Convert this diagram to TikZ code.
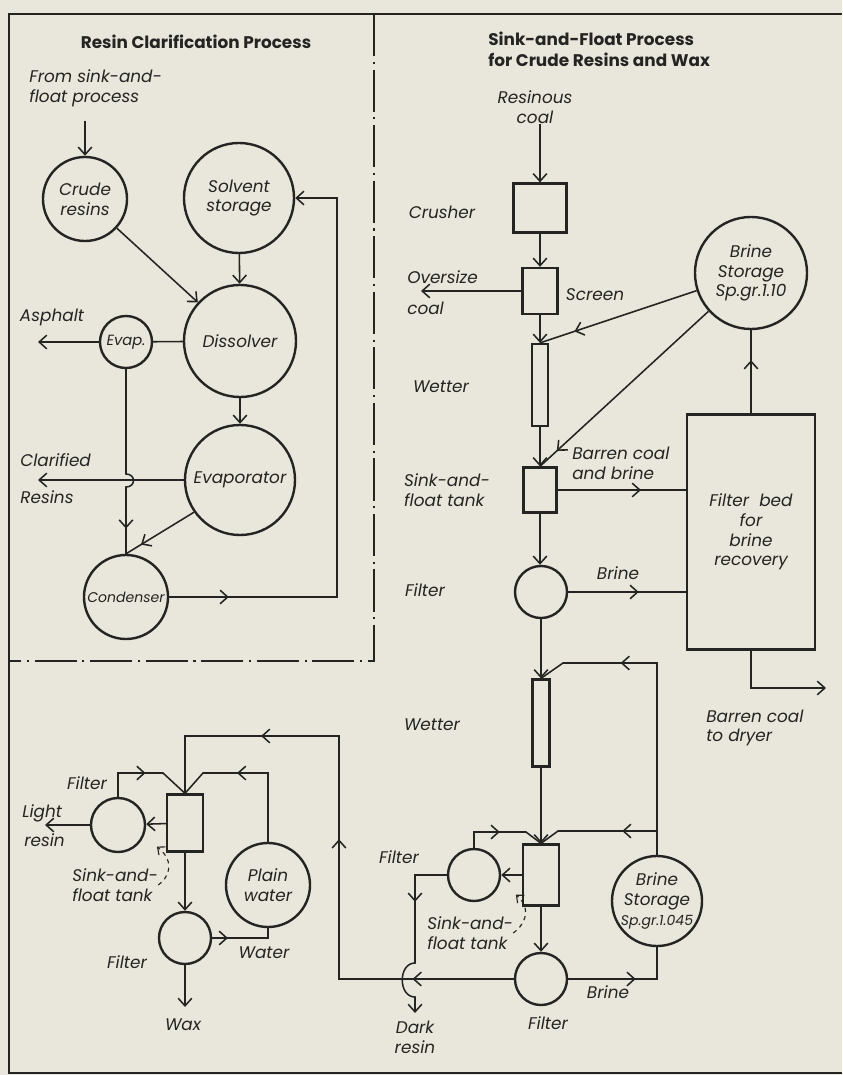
\documentclass[tikz,border=0pt]{standalone}
\usepackage{fontspec}
\newfontfamily\letterfont{Poppins}
\usepackage{tikz}
\usetikzlibrary{arrows.meta, calc, decorations.markings, positioning}
\usepackage{xcolor}
\definecolor{paper}{RGB}{233,230,219}
\definecolor{ink}{RGB}{36,36,34}
\newcommand{\lettersize}[2]{\letterfont\itshape\fontsize{#1}{#2}\selectfont}

\tikzset{
  flowtip/.tip={Straight Barb[length=1.9mm, width=3.4mm]},
  pipe/.style={draw=ink, line width=1.1pt},
  flow/.style={pipe, -{flowtip}},
  midarrow/.style={postaction={decorate, decoration={markings, mark=at position #1 with {\arrow{flowtip}}}}},
  vessel/.style={circle, draw=ink, line width=1.7pt, inner sep=0pt, minimum size=#1,
    font=\lettersize{12}{14}, align=center, text=ink},
  unitbox/.style 2 args={rectangle, draw=ink, line width=1.6pt, inner sep=0pt,
    minimum width=#1, minimum height=#2},
  lettering/.style={font=\lettersize{12}{14}, text=ink, inner sep=0pt},
  heading/.style={font=\letterfont\bfseries\fontsize{12}{15}\selectfont, text=ink, inner sep=0pt, align=left},
  pointer/.style={draw=ink, line width=0.8pt, dashed, -{Straight Barb[length=1.5mm, width=2.6mm]}},
  divider/.style={draw=ink, line width=1.1pt, dash pattern=on 30pt off 4pt on 1.5pt off 4pt},
}

\begin{document}
\begin{tikzpicture}[x=0.025cm, y=-0.025cm]
    \useasboundingbox (0,0) rectangle (842,1075);
    \fill[paper] (0,0) rectangle (842,1075);

    % Frame and divider
    \draw[ink, line width=1.6pt] (842,14) -- (9,14) -- (9,1073) -- (842,1073);
    \draw[divider] (374,14) -- (374,661) -- (9,661);

    % Resin clarification
    \node[heading] (titleL) at (196,42) {Resin Clarification Process};
    \node[lettering, align=left, anchor=west] (fromSF) at (29,88) {From sink-and-\\float process};
    \coordinate (feedL) at (85,121);
    \node[vessel=2.1cm] (crude) at (85,199) {Crude\\resins};
    \node[vessel=2.75cm] (solvent) at (239,198) {Solvent\\storage};
    \node[vessel=2.8cm] (dissolver) at (240,341) {Dissolver};
    \node[vessel=1.3cm, font=\lettersize{10.5}{12}] (evap) at (126,342) {Evap.};
    \node[vessel=2.75cm] (evaporator) at (240,480) {Evaporator};
    \node[vessel=2.1cm, font=\lettersize{10}{12}] (condenser) at (126,597) {Condenser};
    \node[lettering] (asphalt) at (52,317) {Asphalt};
    \coordinate (asphaltout) at (38,342);
    \node[lettering, anchor=west] (clarA) at (20,460) {Clarified};
    \node[lettering, anchor=west] (clarB) at (20,497) {Resins};
    \coordinate (clarout) at (38,480);

    \draw[flow] (feedL) -- (crude.north);
    \draw[flow] (crude) -- (dissolver);
    \draw[flow] (solvent) -- (dissolver);
    \draw[pipe] (evap) -- (dissolver);
    \draw[flow] (evap.west) -- (asphaltout);
    \draw[flow] (dissolver) -- (evaporator);
    \draw[flow] (evaporator.west) -- (clarout);
    \draw[pipe, midarrow=0.87] (evap.south) -- (126,474) .. controls (136,474) and (136,487) .. (126,487) -- (condenser.north);
    \draw[pipe, midarrow=0.78] (evaporator.215) -- (condenser.north);
    \draw[flow, midarrow=0.098] (condenser.east) -- (337,597) -- (337,198) -- (solvent.east);

    % Sink-and-float, upper line
    \node[heading, anchor=west] (titleR) at (488,49) {Sink-and-Float Process\\for Crude Resins and Wax};
    \node[lettering, align=center] (resinous) at (535,107) {Resinous\\coal};
    \node[unitbox={1.325cm}{1.225cm}] (crusher) at (540,208) {};
    \node[lettering] (crusherlbl) at (442,212) {Crusher};
    \node[unitbox={0.875cm}{1.15cm}] (screen) at (540,291) {};
    \node[lettering] (screenlbl) at (595,295) {Screen};
    \node[lettering, anchor=west] (oversizeA) at (407,277) {Oversize};
    \node[lettering, anchor=west] (oversizeB) at (407,308) {coal};
    \coordinate (oversizeout) at (421,291);
    \node[unitbox={0.4cm}{2.05cm}] (wetterA) at (540,385) {};
    \node[lettering] (wetterAlbl) at (441,387) {Wetter};
    \node[vessel=2.8cm] (brineA) at (751,273) {Brine\\Storage\\Sp.gr.1.10};
    \node[unitbox={0.825cm}{1.125cm}] (tankA) at (540,490) {};
    \node[lettering, align=left] (tankAlbl) at (447,490) {Sink-and-\\float tank};
    \node[lettering, align=left, anchor=west] (barrenA) at (572,463) {Barren coal\\and brine};
    \node[unitbox={3.2cm}{5.875cm}, lettering, align=center] (filterbed) at (751,532) {Filter~~bed\\for\\brine\\recovery};
    \node[vessel=1.3cm] (filterA) at (541,592) {};
    \node[lettering] (filterAlbl) at (425,590) {Filter};
    \node[lettering] (brinelblA) at (618,573) {Brine};
    \coordinate (dryer) at (826,688);
    \node[lettering, align=left, anchor=west] (dryerlbl) at (706,728) {Barren coal\\to dryer};

    \draw[flow] (resinous.south -| crusher.north) -- (crusher.north);
    \draw[flow] (crusher) -- (screen);
    \draw[flow] (screen.west) -- (oversizeout);
    \draw[flow] (screen) -- (wetterA);
    \draw[pipe, midarrow=0.78] (brineA.198) -- (wetterA.north);
    \draw[flow] (wetterA) -- (tankA);
    \draw[pipe, midarrow=0.9] (brineA.222) -- (tankA.north);
    \draw[pipe, midarrow=0.65] (tankA.east) -- (tankA.east -| filterbed.west);
    \draw[flow] (tankA.south) -- (tankA.south |- filterA.north);
    \draw[pipe, midarrow=0.6] (filterA.east) -- (filterA.east -| filterbed.west);
    \draw[pipe, midarrow=0.64] (filterbed.north) -- (brineA.south);
    \draw[flow] (filterbed.south) |- (dryer);

    % Sink-and-float, lower line
    \node[unitbox={0.425cm}{2.175cm}] (wetterB) at (541,723) {};
    \node[lettering] (wetterBlbl) at (432,725) {Wetter};
    \node[unitbox={0.9cm}{1.525cm}] (tankB) at (541,875) {};
    \node[vessel=1.3cm] (filterB) at (474,875) {};
    \node[lettering] (filterBlbl) at (399,857) {Filter};
    \node[vessel=1.3cm] (filterC) at (541,979) {};
    \node[lettering] (filterClbl) at (548,1023) {Filter};
    \node[lettering] (brinelblB) at (608,992) {Brine};
    \node[vessel=2.25cm] (brineB) at (657,901) {};
    \node[lettering, align=center] (brineBtxt) at (brineB) {Brine\\Storage\\{\fontsize{10}{12}\selectfont Sp.gr.1.045}};
    \node[lettering, align=left, anchor=west] (tankBlbl) at (427,933) {Sink-and-\\float tank};
    \coordinate (teeB) at (657,831);
    \coordinate (darkout) at (415,1013);
    \node[lettering, align=center] (dark) at (415,1037) {Dark\\resin};

    \draw[flow] (filterA) -- (wetterB);
    \draw[pipe, midarrow=0.73] (brineB.north) -- (657,663) -- (563,663) -- (wetterB.north);
    \draw[pipe, midarrow=0.29] (teeB) -- (558,831) -- (tankB.north);
    \draw[flow] (wetterB) -- (tankB);
    \draw[flow] (tankB) -- (filterB);
    \draw[pipe, midarrow=0.48] (filterB.north) -- (474,832) -- (526,832) -- (tankB.north);
    \draw[flow] (tankB) -- (filterC);
    \draw[pipe, midarrow=0.56] (filterC.east) -- (657,979) -- (brineB.south);
    \draw[flow, midarrow=0.32] (filterB.west) -- (415,875) -- (415,963) .. controls (398,963) and (398,997) .. (415,997) -- (darkout);
    \draw[pointer] (tankBlbl.east) .. controls +(9,-6) and +(18,16) .. ($(tankB.south west)+(-6,-12)$);

    % Wax recovery
    \node[unitbox={0.9cm}{1.425cm}] (tankC) at (185,823) {};
    \node[vessel=1.35cm] (filterD) at (118,825) {};
    \node[lettering] (filterDlbl) at (87,783) {Filter};
    \node[lettering, anchor=west] (lightA) at (22,813) {Light};
    \node[lettering, anchor=west] (lightB) at (24,840) {resin};
    \coordinate (lightout) at (45,825);
    \node[vessel=2.1cm] (water) at (268,885) {Plain\\water};
    \node[vessel=1.3cm] (filterE) at (185,938) {};
    \node[lettering] (filterElbl) at (127,962) {Filter};
    \node[lettering] (waterlbl) at (264,953) {Water};
    \coordinate (waxout) at (185,1007);
    \node[lettering] (wax) at (183,1025) {Wax};
    \node[lettering, align=left, anchor=west] (tankClbl) at (72,885) {Sink-and-\\float tank};

    \draw[pipe, midarrow=0.161, midarrow=0.5, midarrow=0.788] (filterC.west) -- (339,979) -- (339,736) -- (185,736) -- (tankC.north);
    \draw[flow] (tankC) -- (filterD);
    \draw[flow] (filterD) -- (lightout);
    \draw[pipe, midarrow=0.52] (filterD.north) -- (118,773) -- (163,773) -- (tankC.north);
    \draw[pipe, midarrow=0.62] (water.north) -- (268,773) -- (203,773) -- (tankC.north);
    \draw[flow] (tankC) -- (filterE);
    \draw[pipe, midarrow=0.24] (filterE.east) -- (268,938) -- (water.south);
    \draw[flow] (filterE) -- (waxout);
    \draw[pointer] (tankClbl.east) .. controls +(9,-6) and +(20,16) .. ($(tankC.south west)+(-9,-6)$);
\end{tikzpicture}
\end{document}
